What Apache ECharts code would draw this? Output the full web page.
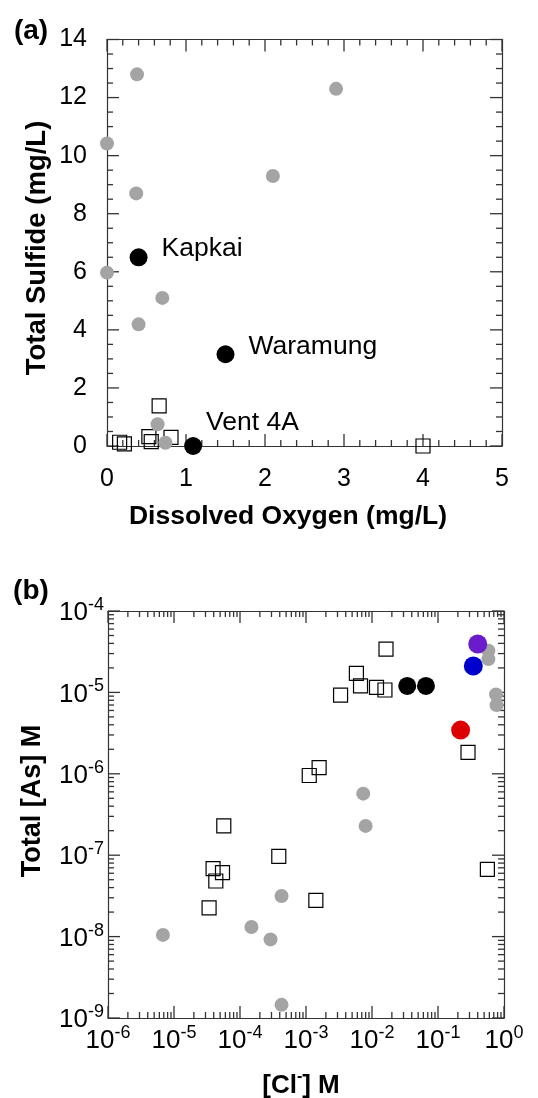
<!DOCTYPE html>
<html><head><meta charset="utf-8">
<script src="https://cdn.jsdelivr.net/npm/echarts@6/dist/echarts.min.js"></script>
<style>html,body{margin:0;padding:0;background:#fff}#c{width:538px;height:1098px}</style>
</head><body><div id="c"></div>
<script>
// ---------- Panel (a): Total Sulfide vs Dissolved Oxygen ----------
const sulfideGray = [[0.38,12.8],[2.9,12.3],[0,10.42],[2.1,9.3],[0.37,8.7],[0,5.97],[0.7,5.1],[0.4,4.19],[0.64,0.75],[0.74,0.11]];
const sulfideSquares = [[0.66,1.38],[0.16,0.13],[0.22,0.07],[0.53,0.32],[0.56,0.15],[0.81,0.30],[4.0,0]];
const ventNames = ['Kapkai','Waramung','Vent 4A'];
const ventDO = [0.40,1.50,1.09];
const ventSulfide = [6.50,3.16,0];

// ---------- Panel (b): Total [As] vs [Cl-] ----------
const asGray = [[0.58,3.25e-5],[0.58,2.57e-5],[0.757,9.45e-6],[0.77,6.98e-6],[7.36e-3,5.7e-7],[8.0e-3,2.29e-7],[4.26e-4,3.15e-8],[6.8e-6,1.05e-8],[1.49e-4,1.31e-8],[2.9e-4,9.24e-9],[4.26e-4,1.45e-9]];
const asSquares = [[0.0163,3.41e-5],[5.8e-3,1.71e-5],[6.7e-3,1.2e-5],[0.0117,1.15e-5],[0.0157,1.07e-5],[3.34e-3,9.27e-6],[0.285,1.83e-6],[1.58e-3,1.19e-6],[1.12e-3,9.53e-7],[5.68e-5,2.29e-7],[3.87e-4,9.7e-8],[3.91e-5,6.84e-8],[5.43e-5,6.1e-8],[4.3e-5,4.82e-8],[3.4e-5,2.26e-8],[1.41e-3,2.79e-8],[0.56,6.7e-8]];
const asBlack = [[0.0342,1.2e-5],[0.0657,1.2e-5]];
const asPurple = [[0.40,3.93e-5]];
const asBlue = [[0.343,2.11e-5]];
const asRed = [[0.22,3.44e-6]];

// axis ranges / tick labels
const doMin = 0, doMax = 5, doMajor = 1, doMinorPerMajor = 5;
const sulfMin = 0, sulfMax = 14, sulfMajor = 2, sulfMinorPerMajor = 4;
const clExponents = [-6,-5,-4,-3,-2,-1,0];
const asExponents = [-9,-8,-7,-6,-5,-4];

// ---------- styles ----------
const FONT = '"Liberation Sans", Arial, Helvetica, sans-serif';
const LINE = {color:'#333', width:1.2};
const TICK_MAJOR = 12, TICK_MINOR = 6, TICK_W = 1.3;
const ventLabelStyle = {
  'Kapkai':   {offset:[3,-9]},
  'Waramung': {offset:[3,-8]},
  'Vent 4A':  {offset:[-7,-23]}
};

// tick values: [value, isMajor]
const doTicks = [], sulfTicks = [], clTicks = [], asTicks = [];
for (let i = 0; i <= (doMax - doMin) / doMajor * doMinorPerMajor; i++)
  doTicks.push([doMin + i * doMajor / doMinorPerMajor, i % doMinorPerMajor === 0]);
for (let i = 0; i <= (sulfMax - sulfMin) / sulfMajor * sulfMinorPerMajor; i++)
  sulfTicks.push([sulfMin + i * sulfMajor / sulfMinorPerMajor, i % sulfMinorPerMajor === 0]);
clExponents.forEach((e, i) => {
  clTicks.push([Math.pow(10, e), true]);
  if (i < clExponents.length - 1) for (let k = 2; k <= 9; k++) clTicks.push([k * Math.pow(10, e), false]);
});
asExponents.forEach((e, i) => {
  asTicks.push([Math.pow(10, e), true]);
  if (i < asExponents.length - 1) for (let k = 2; k <= 9; k++) asTicks.push([k * Math.pow(10, e), false]);
});

// inward tick marks on all four sides, thin rect symbols placed by the axes' scales
function tickItems(xTicks, yTicks, xMin, xMax, yMin, yMax){
  const items = [];
  xTicks.forEach(([v, major]) => {
    const L = major ? TICK_MAJOR : TICK_MINOR;
    items.push({value:[v, yMin], symbolSize:[TICK_W, L], symbolOffset:[0, -L/2]});
    items.push({value:[v, yMax], symbolSize:[TICK_W, L], symbolOffset:[0, L/2]});
  });
  yTicks.forEach(([v, major]) => {
    const L = major ? TICK_MAJOR : TICK_MINOR;
    items.push({value:[xMin, v], symbolSize:[L, TICK_W], symbolOffset:[L/2, 0]});
    items.push({value:[xMax, v], symbolSize:[L, TICK_W], symbolOffset:[-L/2, 0]});
  });
  return items;
}

const supRich = {
  b:{fontSize:26, fontFamily:FONT, color:'#000', lineHeight:30, verticalAlign:'bottom'},
  s:{fontSize:18, fontFamily:FONT, color:'#000', lineHeight:18, verticalAlign:'top'}
};
const expFmt = v => '{b|10}{s|' + Math.round(Math.log10(v)) + '}';

const frame = {axisLine:{show:true, onZero:false, lineStyle:LINE}, axisTick:{show:false}, splitLine:{show:false}};
const sq = {symbol:'rect', symbolSize:14, itemStyle:{color:'rgba(0,0,0,0)', borderColor:'#000', borderWidth:1.2, opacity:1}};
const dot = (c, s) => ({symbol:'circle', symbolSize:s, itemStyle:{color:c, opacity:1}});
const tickSeries = {type:'scatter', symbol:'rect', itemStyle:{color:'#333', opacity:1}, clip:false, silent:true, z:1};

const option = {
  animation:false,
  backgroundColor:'#fff',
  grid:[
    {left:107, top:39.5, width:395, height:406.5},
    {left:108, top:611, width:396, height:407}
  ],
  xAxis:[
    Object.assign({gridIndex:0, type:'value', min:doMin, max:doMax, interval:doMajor, position:'bottom',
      axisLabel:{fontSize:25, fontFamily:FONT, color:'#000', margin:21, showMinLabel:true, showMaxLabel:true}}, frame),
    Object.assign({gridIndex:0, type:'value', min:doMin, max:doMax, interval:doMajor, position:'top', axisLabel:{show:false}}, frame),
    Object.assign({gridIndex:1, type:'log', logBase:10, min:1e-6, max:1, position:'bottom',
      axisLabel:{formatter:expFmt, rich:supRich, margin:6, interval:0, showMinLabel:true, showMaxLabel:true}}, frame),
    Object.assign({gridIndex:1, type:'log', logBase:10, min:1e-6, max:1, position:'top', axisLabel:{show:false}}, frame)
  ],
  yAxis:[
    Object.assign({gridIndex:0, type:'value', min:sulfMin, max:sulfMax, interval:sulfMajor, position:'left',
      axisLabel:{fontSize:25, fontFamily:FONT, color:'#000', margin:20, showMinLabel:true, showMaxLabel:true}}, frame),
    Object.assign({gridIndex:0, type:'value', min:sulfMin, max:sulfMax, interval:sulfMajor, position:'right', axisLabel:{show:false}}, frame),
    Object.assign({gridIndex:1, type:'log', logBase:10, min:1e-9, max:1e-4, position:'left',
      axisLabel:{formatter:expFmt, rich:supRich, margin:4, interval:0, showMinLabel:true, showMaxLabel:true}}, frame),
    Object.assign({gridIndex:1, type:'log', logBase:10, min:1e-9, max:1e-4, position:'right', axisLabel:{show:false}}, frame)
  ],
  graphic:[
    {type:'text', x:31, y:31, style:{text:'(a)', font:'bold 28px ' + FONT, fill:'#000', align:'center', verticalAlign:'middle'}},
    {type:'text', x:31, y:591, style:{text:'(b)', font:'bold 28px ' + FONT, fill:'#000', align:'center', verticalAlign:'middle'}},
    {type:'text', x:288, y:517, style:{text:'Dissolved Oxygen (mg/L)', font:'bold 26.5px ' + FONT, fill:'#000', align:'center', verticalAlign:'middle'}},
    {type:'text', x:37, y:248, rotation:Math.PI/2, style:{text:'Total Sulfide (mg/L)', font:'bold 27.5px ' + FONT, fill:'#000', align:'center', verticalAlign:'middle'}},
    {type:'text', x:33, y:801, rotation:Math.PI/2, style:{text:'Total [As] M', font:'bold 27px ' + FONT, fill:'#000', align:'center', verticalAlign:'middle'}},
    {type:'text', x:301, y:1084, style:{text:'{b|[Cl}{s|-}{b|] M}', align:'center', verticalAlign:'middle',
      rich:{b:{font:'bold 26px ' + FONT, fill:'#000', lineHeight:30, verticalAlign:'bottom'}, s:{font:'bold 16px ' + FONT, fill:'#000', lineHeight:16, verticalAlign:'top'}}}}
  ],
  series:[
    // panel (a)
    Object.assign({xAxisIndex:0, yAxisIndex:0, data:tickItems(doTicks, sulfTicks, doMin, doMax, sulfMin, sulfMax)}, tickSeries),
    Object.assign({type:'scatter', xAxisIndex:0, yAxisIndex:0, data:sulfideSquares, clip:false}, sq),
    Object.assign({type:'scatter', xAxisIndex:0, yAxisIndex:0, data:sulfideGray, clip:false}, dot('#a4a4a4', 14)),
    Object.assign({type:'scatter', xAxisIndex:0, yAxisIndex:0, clip:false,
      data:ventNames.map((n,i)=>({name:n, value:[ventDO[i], ventSulfide[i]], label:ventLabelStyle[n]})),
      label:{show:true, formatter:'{b}', position:'right', distance:11, fontSize:26.5, fontFamily:FONT, color:'#000'}}, dot('#000', 18)),
    // panel (b)
    Object.assign({xAxisIndex:2, yAxisIndex:2, data:tickItems(clTicks, asTicks, 1e-6, 1, 1e-9, 1e-4)}, tickSeries),
    Object.assign({type:'scatter', xAxisIndex:2, yAxisIndex:2, data:asGray, clip:false}, dot('#a4a4a4', 14)),
    Object.assign({type:'scatter', xAxisIndex:2, yAxisIndex:2, data:asSquares, clip:false}, sq),
    Object.assign({type:'scatter', xAxisIndex:2, yAxisIndex:2, data:asBlack, clip:false}, dot('#000', 18)),
    Object.assign({type:'scatter', xAxisIndex:2, yAxisIndex:2, data:asPurple, clip:false}, dot('#6a1ccc', 19)),
    Object.assign({type:'scatter', xAxisIndex:2, yAxisIndex:2, data:asBlue, clip:false}, dot('#0000cc', 19)),
    Object.assign({type:'scatter', xAxisIndex:2, yAxisIndex:2, data:asRed, clip:false}, dot('#dd0000', 19))
  ]
};
const chart = echarts.init(document.getElementById('c'), null, {renderer:'canvas'});
chart.setOption(option);
</script>
</body></html>
